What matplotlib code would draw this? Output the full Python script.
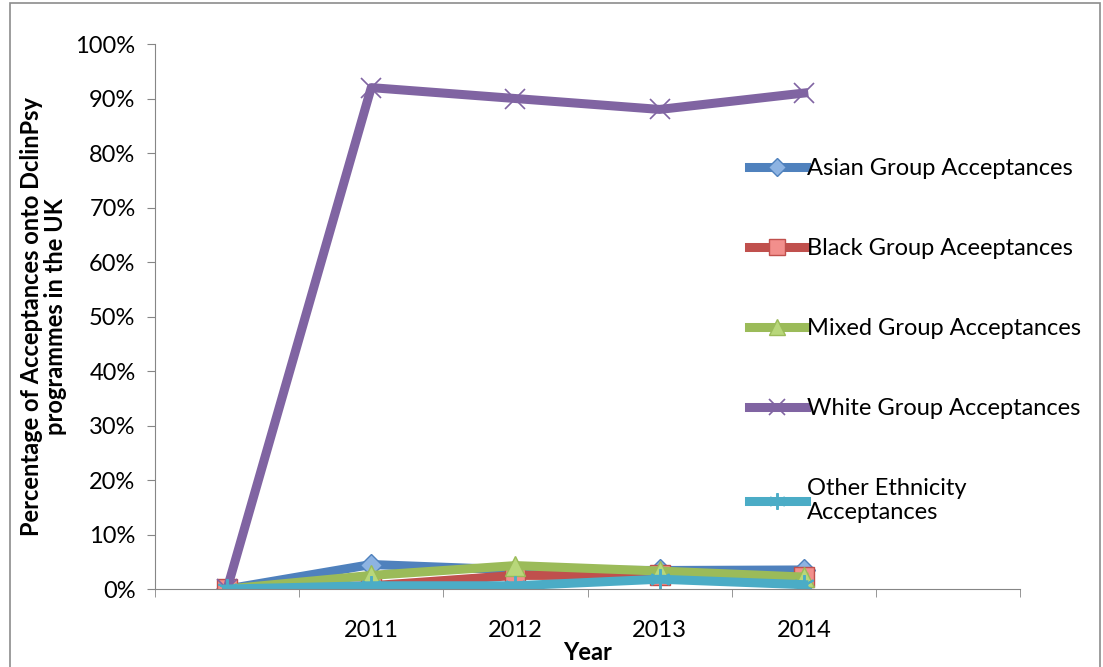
import matplotlib.pyplot as plt
from matplotlib.patches import Rectangle
from matplotlib.ticker import MultipleLocator, FixedLocator, PercentFormatter

plt.rcParams['font.family'] = ['Lato', 'DejaVu Sans']

# categories (first and last slots are blank in the original)
years = ["", "2011", "2012", "2013", "2014", ""]
asian = [0, 4.5, 3.5, 3.4, 3.5]
black = [0, 0.6, 2.5, 2.5, 2.2]
mixed = [0, 2.5, 4.3, 3.3, 2.2]
white = [0, 92, 90, 88, 91]
other = [0, 0.6, 0.6, 1.8, 0.8]

fig = plt.figure(figsize=(11.03, 6.67), dpi=100)
ax = fig.add_axes([0.1405, 0.1169, 0.7843, 0.8171])

# grey frame round the chart area
fig.patches.append(Rectangle((0.009, -0.01), 0.988, 1.005, transform=fig.transFigure,
                             fill=False, edgecolor='#8c8c8c', linewidth=1.2))

x = range(len(asian))
lw = 6.5
ax.plot(x, asian, color='#4F81BD', lw=lw, marker='D', ms=11, mfc='#8db3e2', mec='#4F81BD',
        label='Asian Group Acceptances', solid_joinstyle='round')
ax.plot(x, black, color='#C0504D', lw=lw, marker='s', ms=14, mfc='#f28f8c', mec='#C0504D',
        label='Black Group Aceeptances', solid_joinstyle='round')
ax.plot(x, mixed, color='#9BBB59', lw=lw, marker='^', ms=14, mfc='#b8d77a', mec='#9BBB59',
        label='Mixed Group Acceptances', solid_joinstyle='round')
ax.plot(x, white, color='#8064A2', lw=lw, marker='x', ms=14, mew=1.2, mec='#8064A2',
        label='White Group Acceptances', solid_joinstyle='round')
ax.plot(x, other, color='#4BACC6', lw=lw, marker=(6, 2, 0), ms=15, mew=1.4, mec='#4BACC6',
        label='Other Ethnicity\nAcceptances', solid_joinstyle='round')

ax.set_xlim(-0.5, len(years) - 0.5)
ax.set_ylim(0, 100)
ax.xaxis.set_major_locator(FixedLocator(list(range(len(years)))))
ax.set_xticklabels(years)
ax.xaxis.set_minor_locator(FixedLocator([i - 0.5 for i in range(len(years) + 1)]))
ax.tick_params(axis='x', which='major', length=0, pad=22, labelsize=17)
ax.tick_params(axis='x', which='minor', length=6, direction='out', color='#868686')
ax.yaxis.set_major_locator(MultipleLocator(10))
ax.yaxis.set_major_formatter(PercentFormatter(decimals=0))
ax.tick_params(axis='y', length=6, direction='out', color='#868686', labelsize=17, pad=8)

for s in ['top', 'right']:
    ax.spines[s].set_visible(False)
for s in ['left', 'bottom']:
    ax.spines[s].set_color('#868686')

ax.set_xlabel('Year', fontweight='bold', fontsize=17, labelpad=0)
ax.set_ylabel('Percentage of Acceptances onto DclinPsy\nprogrammes in the UK',
              fontweight='bold', fontsize=17, labelpad=6, linespacing=1.05)

ax.legend(loc='upper left', bbox_to_anchor=(0.662, 0.83), frameon=False, fontsize=17,
          handlelength=2.4, handletextpad=0.05, labelspacing=2.5, markerscale=0.8)

fig.savefig('out.png', dpi=100)
